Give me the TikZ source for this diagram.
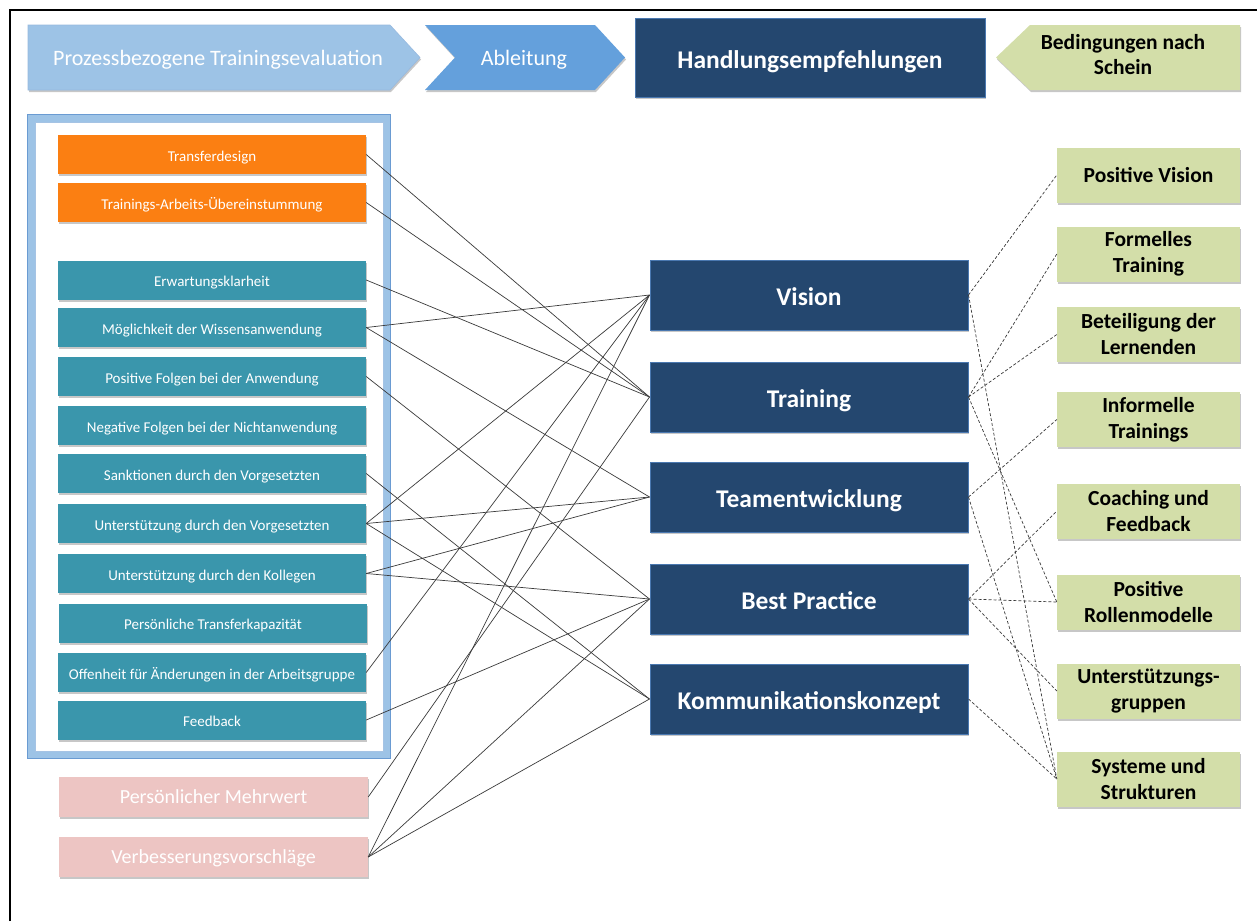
\documentclass[tikz,border=0pt]{standalone}
\usepackage{fontspec}
\setmainfont{Carlito}
\usetikzlibrary{shadows}

\definecolor{cOrange}{HTML}{FB7F12}
\definecolor{cTeal}{HTML}{3A96AC}
\definecolor{cPink}{HTML}{EDC5C3}
\definecolor{cNavy}{HTML}{24476F}
\definecolor{cNavyEdge}{HTML}{4A78B0}
\definecolor{cGreen}{HTML}{D3DEA9}
\definecolor{cSky}{HTML}{9DC3E6}
\definecolor{cSkyEdge}{HTML}{6A9BD2}
\definecolor{cMid}{HTML}{64A0DC}
\definecolor{cLine}{HTML}{3A3A3A}

\tikzset{
  softshadow/.style={drop shadow={shadow xshift=1pt, shadow yshift=-2pt, opacity=0.22, fill=black}},
  lbox/.style={rectangle, minimum width=308, minimum height=39, inner sep=0pt,
    text=white, font=\fontsize{15}{18}\selectfont, text height=13pt, text depth=0pt, softshadow},
  obox/.style={lbox, fill=cOrange},
  tbox/.style={lbox, fill=cTeal},
  pbox/.style={lbox, fill=cPink, minimum width=309, minimum height=40,
    font=\fontsize{20}{24}\selectfont, text height=13.5pt},
  nbox/.style={rectangle, minimum width=318, minimum height=70, inner sep=0pt,
    fill=cNavy, draw=cNavyEdge, line width=1pt, text=white,
    text height=20pt, text depth=0pt,
    font=\bfseries\fontsize{25.5}{30}\selectfont, softshadow},
  gbox/.style={rectangle, minimum width=183, minimum height=55, inner sep=0pt,
    fill=cGreen, text=black, align=center,
    font=\bfseries\fontsize{21.5}{26}\selectfont, softshadow},
  headtext/.style={text=white, text height=15.5pt, text depth=0pt,
    font=\fontsize{22}{26}\selectfont},
  link/.style={cLine, line width=0.7pt},
  dlink/.style={cLine, line width=0.7pt, dash pattern=on 3pt off 2pt},
}

\begin{document}
\begin{tikzpicture}[x=1pt, y=-1pt]
\useasboundingbox (0,0) rectangle (1257,921);
\fill[white] (0,0) rectangle (1257,921);

% outer frame
\draw[black, line width=1.3pt] (10,921) -- (10,10) -- (1257,10);

% header: process chevrons
\fill[cSky, softshadow] (28,25) -- (390,25) -- (420,57.5) -- (390,90) -- (28,90) -- cycle;
\draw[cSkyEdge!70, line width=0.6pt] (28,25) -- (390,25) -- (420,57.5) -- (390,90) -- (28,90) -- cycle;
\node[headtext] (prozess) at (218,57.5) {Prozessbezogene Trainingsevaluation};

\fill[cMid, softshadow] (425,25) -- (595,25) -- (625,57.5) -- (595,90) -- (425,90) -- (455,57.5) -- cycle;
\node[headtext] (ableitung) at (524,57.5) {Ableitung};

\node[rectangle, minimum width=350, minimum height=79, inner sep=0pt, fill=cNavy,
  draw=cNavyEdge, line width=1pt, text=white, softshadow,
  text height=21.8pt, text depth=0pt,
  font=\bfseries\fontsize{25.5}{30}\selectfont] (handlung) at (810,57.5) {Handlungsempfehlungen};

\fill[cGreen, softshadow] (996,57.5) -- (1030,25) -- (1240,25) -- (1240,90) -- (1030,90) -- cycle;
\node[text=black, align=center, font=\bfseries\fontsize{21.5}{25}\selectfont] (bedingungen) at (1123,55) {Bedingungen nach\\Schein};

% frame around the transfer factors
\draw[cSky, line width=7pt] (31,118) rectangle (386.5,754.5);
\draw[cSkyEdge, line width=0.8pt] (27.5,114.5) rectangle (390,758);
\draw[cSkyEdge!60, line width=0.6pt] (35,122) rectangle (383,751);

% transfer factors
\node[obox] (td) at (212,154.5) {Transferdesign};
\node[obox] (ta) at (212,202.5) {Trainings-Arbeits-Übereinstummung};
\node[tbox] (ek) at (212,280) {Erwartungsklarheit};
\node[tbox] (mw) at (212,327.5) {Möglichkeit der Wissensanwendung};
\node[tbox] (pf) at (212,376.5) {Positive Folgen bei der Anwendung};
\node[tbox] (nf) at (212,425.5) {Negative Folgen bei der Nichtanwendung};
\node[tbox] (sk) at (212,473.5) {Sanktionen durch den Vorgesetzten};
\node[tbox] (uv) at (212,523.5) {Unterstützung durch den Vorgesetzten};
\node[tbox] (uk) at (212,573.5) {Unterstützung durch den Kollegen};
\node[tbox] (pt) at (213,623) {Persönliche Transferkapazität};
\node[tbox] (of) at (212,672.5) {Offenheit für Änderungen in der Arbeitsgruppe};
\node[tbox] (fb) at (212,720) {Feedback};

\node[pbox] (pm) at (213.5,797) {Persönlicher Mehrwert};
\node[pbox] (vv) at (213.5,857) {Verbesserungsvorschläge};

% recommendations
\node[nbox] (vis) at (809,295) {Vision};
\node[nbox] (tra) at (809,397) {Training};
\node[nbox] (tea) at (809,497) {Teamentwicklung};
\node[nbox] (bes) at (809,599) {Best Practice};
\node[nbox] (kom) at (809,699) {Kommunikationskonzept};

% conditions
\node[gbox] (pv) at (1148.5,175) {Positive Vision};
\node[gbox] (ft) at (1148.5,254) {Formelles\\Training};
\node[gbox] (bl) at (1148.5,334.5) {Beteiligung der\\Lernenden};
\node[gbox] (it) at (1148.5,419.5) {Informelle\\Trainings};
\node[gbox] (cf) at (1148.5,511) {Coaching und\\Feedback};
\node[gbox] (pr) at (1148.5,602) {Positive\\Rollenmodelle};
\node[gbox] (ug) at (1148.5,691) {Unterstützungs-\\gruppen};
\node[gbox] (ss) at (1148.5,779) {Systeme und\\Strukturen};

% factors -> recommendations
\draw[link] (td.east) -- (tra.west);
\draw[link] (ta.east) -- (tra.west);
\draw[link] (ek.east) -- (tra.west);
\draw[link] (mw.east) -- (vis.west);
\draw[link] (mw.east) -- (tea.west);
\draw[link] (pf.east) -- (bes.west);
\draw[link] (sk.east) -- (kom.west);
\draw[link] (uv.east) -- (vis.west);
\draw[link] (uv.east) -- (tea.west);
\draw[link] (uv.east) -- (kom.west);
\draw[link] (uk.east) -- (tea.west);
\draw[link] (uk.east) -- (bes.west);
\draw[link] (of.east) -- (vis.west);
\draw[link] (fb.east) -- (bes.west);
\draw[link] (pm.east) -- (tra.west);
\draw[link] (vv.east) -- (vis.west);
\draw[link] (vv.east) -- (bes.west);
\draw[link] (vv.east) -- (kom.west);

% recommendations -> conditions
\draw[dlink] (vis.east) -- (pv.west);
\draw[dlink] (vis.east) -- (ss.west);
\draw[dlink] (tra.east) -- (ft.west);
\draw[dlink] (tra.east) -- (bl.west);
\draw[dlink] (tra.east) -- (pr.west);
\draw[dlink] (tea.east) -- (it.west);
\draw[dlink] (tea.east) -- (ss.west);
\draw[dlink] (bes.east) -- (cf.west);
\draw[dlink] (bes.east) -- (pr.west);
\draw[dlink] (bes.east) -- (ug.west);
\draw[dlink] (kom.east) -- (ss.west);
\end{tikzpicture}
\end{document}
